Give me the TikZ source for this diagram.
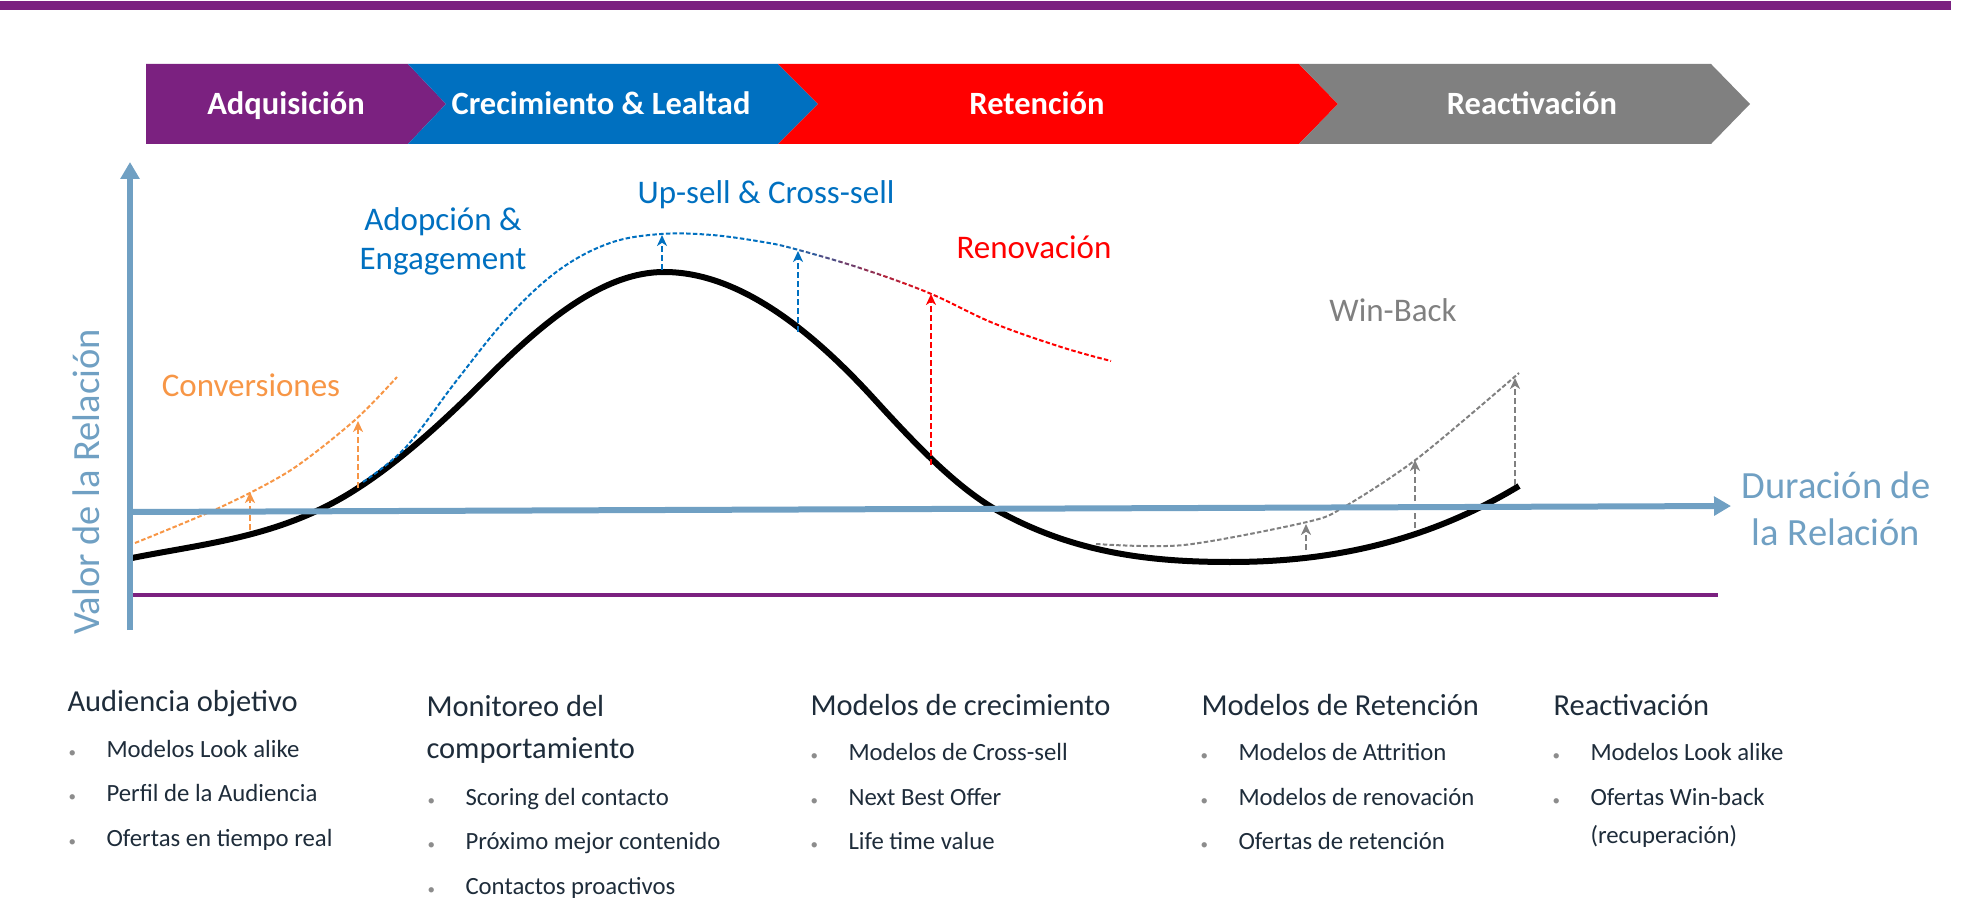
\documentclass[tikz,border=0pt]{standalone}
\usepackage{fontspec}
\setmainfont{Carlito}
\usetikzlibrary{arrows.meta,positioning}

\definecolor{phasepurple}{RGB}{123,33,128}
\definecolor{phaseblue}{RGB}{0,112,192}
\definecolor{phasered}{RGB}{255,0,0}
\definecolor{phasegray}{RGB}{128,128,128}
\definecolor{convorange}{RGB}{247,150,70}
\definecolor{axisblue}{RGB}{112,160,195}
\definecolor{textdark}{RGB}{30,44,58}
\definecolor{bulletgray}{RGB}{140,140,140}

\newcommand{\bul}{\makebox[15.2pt][l]{\textcolor{bulletgray}{\fontsize{6}{7}\selectfont •}}}
\newcommand{\upsellcurve}{plot[smooth, tension=0.6] coordinates {(363,482) (406,447) (457,380) (508,317) (559,270) (610,243) (661,234) (712,235) (763,242) (795,249) (860,268) (929,293) (993,323) (1061,347) (1111,361)}}

\tikzset{
  phase/.style={font=\fontsize{13}{15}\selectfont\bfseries, text=white, anchor=base},
  curvelabel/.style={font=\fontsize{13.2}{15.6}\selectfont, anchor=base, align=center},
  axislabel/.style={font=\fontsize{15.4}{18.8}\selectfont, text=axisblue, anchor=base, align=center},
  heading/.style={font=\fontsize{12.2}{16.8}\selectfont, text=textdark, anchor=base west, align=left, inner sep=0pt},
  item/.style={font=\fontsize{9.9}{15.2}\selectfont, text=textdark, anchor=base west, align=left, inner sep=0pt},
  curvedash/.style={line width=0.8pt, dash pattern=on 1.8pt off 0.9pt},
  liftarrow/.style={line width=1pt, dash pattern=on 2.4pt off 1.2pt, -{Stealth[length=4.4pt,width=4pt,inset=1.3pt]}},
  axisline/.style={line width=2.4pt, draw=axisblue, -{Triangle[length=6.8pt,width=7.4pt]}}
}

\begin{document}
\begin{tikzpicture}[x=0.4pt, y=-0.4pt]
    \useasboundingbox (0,0) rectangle (1964,918);

    % top band
    \fill[phasepurple] (0,1) rectangle (1951,10);

    % phases
    \fill[phasepurple] (146,64) -- (408,64) -- (446,104) -- (408,144) -- (146,144) -- cycle;
    \fill[phaseblue] (408,64) -- (778,64) -- (818,104) -- (778,144) -- (408,144) -- (446,104) -- cycle;
    \fill[phasered] (778,64) -- (1299,64) -- (1338,104) -- (1299,144) -- (778,144) -- (818,104) -- cycle;
    \fill[phasegray] (1299,64) -- (1711,64) -- (1750,104) -- (1711,144) -- (1299,144) -- (1338,104) -- cycle;

    \node[phase] at (286,115) (adq_label) {Adquisición};
    \node[phase] at (601,115) (crec_label) {Crecimiento \& Lealtad};
    \node[phase] at (1037,115) (ret_label) {Retención};
    \node[phase] at (1532,115) (react_label) {Reactivación};

    % baseline
    \draw[phasepurple, line width=1.6pt] (132,595) -- (1718,595);

    % relationship value
    \draw[line width=2.4pt] (132,558) .. controls (207,543) and (283,537) .. (358,488)
        .. controls (400,461) and (443,422) .. (485,380)
        .. controls (545,320) and (604,272) .. (664,272)
        .. controls (734,272) and (805,323) .. (875,400)
        .. controls (917,446) and (958,489) .. (1000,512)
        .. controls (1077,554) and (1153,562) .. (1230,562)
        .. controls (1326,562) and (1423,544) .. (1519,486);

    % conversiones
    \draw[curvedash, convorange] plot[smooth] coordinates {(135,543) (221,507) (291,470) (355,420) (397,377)};
    \coordinate (conv_a_base) at (250,530);
    \coordinate (conv_a_tip) at (250,492);
    \coordinate (conv_b_base) at (358,488);
    \coordinate (conv_b_tip) at (358,421);
    \draw[liftarrow, convorange] (conv_a_base) -- (conv_a_tip);
    \draw[liftarrow, convorange] (conv_b_base) -- (conv_b_tip);

    % up-sell, blue into red
    \begin{scope}
      \clip (0,0) rectangle (780,918);
      \draw[curvedash, phaseblue] \upsellcurve;
    \end{scope}
    \foreach \i in {0,...,7} {
      \pgfmathtruncatemacro{\mixblue}{94-12.5*\i}
      \begin{scope}
        \clip (780+20*\i,0) rectangle (800+20*\i,918);
        \draw[curvedash, draw=phaseblue!\mixblue!phasered] \upsellcurve;
      \end{scope}
    }
    \begin{scope}
      \clip (940,0) rectangle (1964,918);
      \draw[curvedash, phasered] \upsellcurve;
    \end{scope}

    \coordinate (up_a_base) at (662,270);
    \coordinate (up_a_tip) at (662,235);
    \coordinate (up_b_base) at (798,332);
    \coordinate (up_b_tip) at (798,251);
    \coordinate (ren_base) at (931,465);
    \coordinate (ren_tip) at (931,294);
    \draw[liftarrow, phaseblue] (up_a_base) -- (up_a_tip);
    \draw[liftarrow, phaseblue] (up_b_base) -- (up_b_tip);
    \draw[liftarrow, phasered] (ren_base) -- (ren_tip);

    % win-back
    \draw[curvedash, phasegray] plot[smooth] coordinates {(1096,544) (1184,545) (1307,522) (1344,507) (1418,458) (1519,373)};
    \coordinate (win_a_base) at (1306,550);
    \coordinate (win_a_tip) at (1306,524);
    \coordinate (win_b_base) at (1415,528);
    \coordinate (win_b_tip) at (1415,460);
    \coordinate (win_c_base) at (1515,485);
    \coordinate (win_c_tip) at (1515,378);
    \draw[liftarrow, phasegray] (win_a_base) -- (win_a_tip);
    \draw[liftarrow, phasegray] (win_b_base) -- (win_b_tip);
    \draw[liftarrow, phasegray] (win_c_base) -- (win_c_tip);

    % axes
    \coordinate (origin) at (130,630);
    \coordinate (y_end) at (130,162);
    \coordinate (x_start) at (132,512);
    \coordinate (x_end) at (1731,506);
    \draw[axisline] (origin) -- (y_end);
    \draw[axisline] (x_start) -- (x_end);

    \node[axislabel, rotate=90] at (99,482) (y_label) {Valor de la Relación};
    \node[axislabel] at (1836,545) (x_label) {Duración de\\la Relación};

    % curve labels
    \node[curvelabel, text=convorange] at (251,397) (conv_label) {Conversiones};
    \node[curvelabel, text=phaseblue] at (443,270) (adop_label) {Adopción \&\\Engagement};
    \node[curvelabel, text=phaseblue] at (766,204) (upsell_label) {Up-sell \& Cross-sell};
    \node[curvelabel, text=phasered] at (1034,259) (renov_label) {Renovación};
    \node[curvelabel, text=phasegray] at (1393,322) (winback_label) {Win-Back};

    % models per phase
    \node[heading] at (67,711) (aud_head) {Audiencia objetivo};
    \node[item] at (68,757) (aud_1) {\bul Modelos Look alike};
    \node[item] at (68,801) (aud_2) {\bul Perfil de la Audiencia};
    \node[item] at (68,846) (aud_3) {\bul Ofertas en tiempo real};

    \node[heading] at (426,758) (mon_head) {Monitoreo del\\comportamiento};
    \node[item] at (427,805) (mon_1) {\bul Scoring del contacto};
    \node[item] at (427,849) (mon_2) {\bul Próximo mejor contenido};
    \node[item] at (427,894) (mon_3) {\bul Contactos proactivos};

    \node[heading] at (810,715) (crec_head) {Modelos de crecimiento};
    \node[item] at (810,760) (crec_1) {\bul Modelos de Cross-sell};
    \node[item] at (810,805) (crec_2) {\bul Next Best Offer};
    \node[item] at (810,849) (crec_3) {\bul Life time value};

    \node[heading] at (1201,715) (ret_head) {Modelos de Retención};
    \node[item] at (1200,760) (ret_1) {\bul Modelos de Attrition};
    \node[item] at (1200,805) (ret_2) {\bul Modelos de renovación};
    \node[item] at (1200,849) (ret_3) {\bul Ofertas de retención};

    \node[heading] at (1553,715) (react_head) {Reactivación};
    \node[item] at (1552,760) (react_1) {\bul Modelos Look alike};
    \node[item] at (1552,843) (react_2) {\bul Ofertas Win-back\\\hspace*{15.2pt}(recuperación)};

\end{tikzpicture}
\end{document}
